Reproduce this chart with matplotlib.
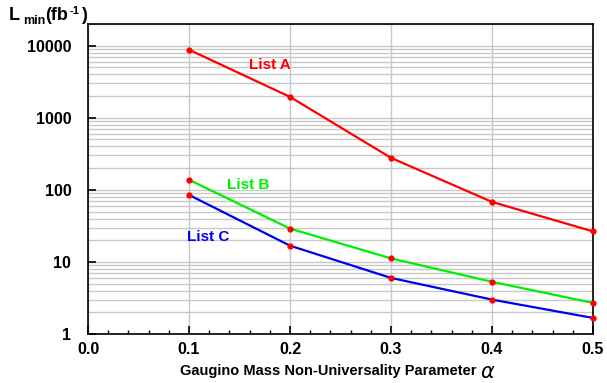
import numpy as np
import matplotlib
matplotlib.use('Agg')
import matplotlib.pyplot as plt
from matplotlib.ticker import LogLocator, FixedLocator

plt.rcParams['font.family'] = ['Liberation Sans', 'DejaVu Sans']

# data
alpha = [0.1, 0.2, 0.3, 0.4, 0.5]
list_a = [8800, 1950, 278, 68, 26.5]
list_b = [138, 29, 11.2, 5.3, 2.7]
list_c = [85, 16.8, 6.0, 3.0, 1.67]

x_ticks = [0.0, 0.1, 0.2, 0.3, 0.4, 0.5]
y_ticks = [1, 10, 100, 1000, 10000]

series = [('List A', list_a, '#ff0000', (0.18, 5450)),
          ('List B', list_b, '#00ee00', (0.159, 117)),
          ('List C', list_c, '#0000ee', (0.119, 22))]

fig = plt.figure(figsize=(6.07, 3.83), dpi=100)
ax = fig.add_axes([88/607, 1-334/383, (593-88)/607, (334-24)/383])

ax.set_yscale('log')
ax.set_xlim(0, 0.5)
ax.set_ylim(1, 2.0e4)

# grid
ax.yaxis.set_major_locator(FixedLocator(y_ticks))
ax.yaxis.set_minor_locator(LogLocator(base=10, subs=np.arange(2, 10)))
ax.xaxis.set_major_locator(FixedLocator(x_ticks))
ax.xaxis.set_minor_locator(FixedLocator(np.arange(0, 0.501, 0.02)))
ax.grid(True, which='both', axis='y', color='#c8c8c8', lw=1.0)
ax.grid(True, which='major', axis='x', color='#c8c8c8', lw=1.0)
ax.set_axisbelow(True)

ax.set_yticklabels([str(v) for v in y_ticks])
ax.set_xticklabels(['%.1f' % v for v in x_ticks])
ax.tick_params(which='major', direction='in', length=6, width=1.2, labelsize=11.5)
ax.tick_params(axis='y', which='minor', length=0)
ax.tick_params(axis='x', which='minor', direction='in', length=3, width=1)
ax.tick_params(axis='y', which='major', pad=12)
ax.tick_params(axis='x', which='major', pad=6)
for lab in ax.get_xticklabels() + ax.get_yticklabels():
    lab.set_fontweight('bold')

for s in ax.spines.values():
    s.set_linewidth(1.2)

for name, vals, col, pos in series:
    ax.plot(alpha, vals, color=col, lw=1.6, zorder=3)
    ax.plot(alpha, vals, 'o', color='#ff0000', ms=3.5, zorder=4, clip_on=False)
    ax.text(pos[0], pos[1], name, color=col, fontsize=11, fontweight='bold',
            ha='center', va='center')

# y axis title pieces
fig.text(9/607, 1-16/383, 'L', fontsize=13, fontweight='bold', va='center')
fig.text(23/607, 1-21/383, 'min', fontsize=9, fontweight='bold', va='center')
fig.text(45/607, 1-16/383, '(fb', fontsize=13, fontweight='bold', va='center')
fig.text(70/607, 1-11/383, '-1', fontsize=8, fontweight='bold', va='center')
fig.text(81/607, 1-16/383, ')', fontsize=13, fontweight='bold', va='center')

fig.text(328/607, 1-371/383, 'Gaugino Mass Non-Universality Parameter', fontsize=10.5,
         fontweight='bold', ha='center', va='center')
fig.text(480/607, 1-372/383, r'$\alpha$', fontsize=15, ha='left', va='center',
         family='DejaVu Serif')

fig.savefig('out.png', dpi=100)
